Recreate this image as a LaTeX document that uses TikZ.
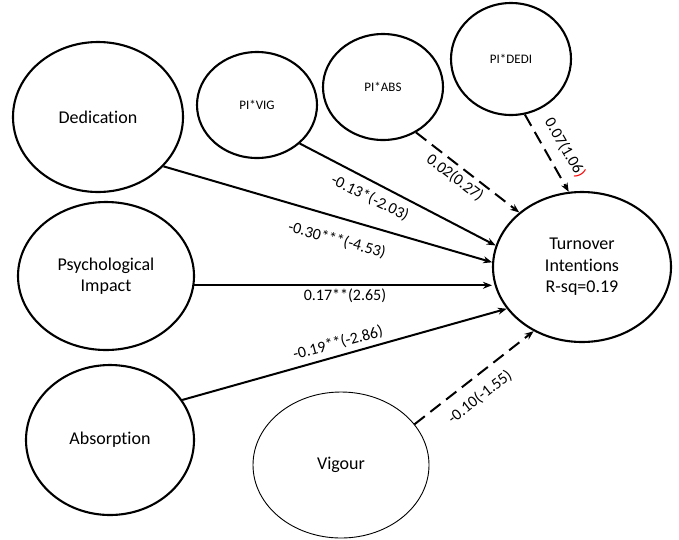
\documentclass[tikz,border=0pt]{standalone}
\usepackage{fontspec}
\setmainfont{Carlito}[Ligatures={NoCommon}]
\usetikzlibrary{shapes.geometric,arrows.meta}
\begin{document}
\begin{tikzpicture}[x=1pt,y=-1pt,
  lat/.style={ellipse,draw,line width=2.1pt,inner sep=0pt,align=center,
    font=\fontsize{18}{21.5}\selectfont},
  inter/.style={ellipse,draw,line width=2.1pt,inner sep=0pt,
    font=\fontsize{13}{15}\selectfont},
  path/.style={line width=2pt,-{Stealth[length=9pt,width=7pt]}},
  dpath/.style={path,dash pattern=on 13pt off 7pt},
  coef/.style={font=\fontsize{16}{18}\selectfont,inner sep=0pt}]
\useasboundingbox (0,0) rectangle (679,539);
% nodes
\node[lat,minimum width=170pt,minimum height=150pt] (ded) at (98,117) {Dedication};
\node[lat,minimum width=176pt,minimum height=148pt] (psy) at (106,276) {Psychological\\Impact};
\node[lat,minimum width=168pt,minimum height=150pt] (abs) at (110,440) {Absorption};
\node[lat,line width=0.9pt,minimum width=176pt,minimum height=146pt] (vig) at (341,465) {Vigour};
\node[lat,minimum width=178pt,minimum height=150pt] (to) at (582,267) {Turnover\\Intentions\\R-sq=0.19};
\node[inter,minimum width=120pt,minimum height=106pt] (pivig) at (257,105) {PI*VIG};
\node[inter,minimum width=120pt,minimum height=106pt] (piabs) at (383,87) {PI*ABS};
\node[inter,minimum width=120pt,minimum height=112pt] (pided) at (511,59) {PI*DEDI};
% paths
\draw[path] (pivig.-42) -- (to.166);
\draw[path] (ded.-37.5) -- (to.177);
\draw[path] (psy.-6) -- (to.west |- psy.-6);
\draw[path] (abs.29.5) -- (to.-151);
\draw[dpath] (vig.29) -- (to.-127.6);
\draw[dpath] (piabs.-54.7) -- (to.139.8);
\draw[dpath] (pided.-76) -- (to.100.6);
% coefficients
\node[coef,rotate=-26] (c1) at (370,198) {-0.13*(-2.03)};
\node[coef,rotate=-15] (c2) at (337,240) {-0.30***(-4.53)};
\node[coef] (c3) at (345,296) {0.17**(2.65)};
\node[coef,rotate=15] (c4) at (338,343) {-0.19**(-2.86)};
\node[coef,rotate=-37] (c5) at (455,178) {0.02(0.27)};
\node[coef,rotate=-60] (c6) at (565,148) {0.07(1.06\textcolor{red}{)}};
\node[coef,rotate=38] (c7) at (480,397) {-0.10(-1.55)};
\end{tikzpicture}
\end{document}
